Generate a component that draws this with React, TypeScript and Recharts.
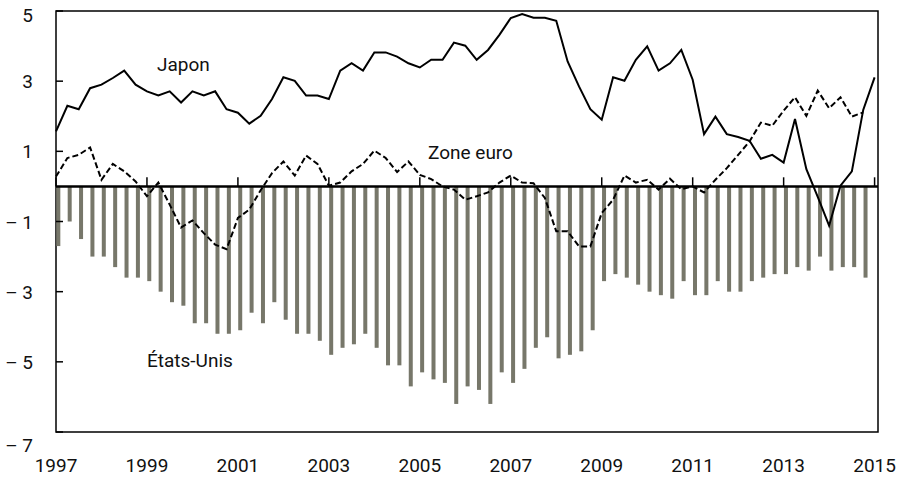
import React from 'react';
import { ComposedChart, Bar, Line, XAxis, YAxis, ReferenceLine, ReferenceArea } from 'recharts';

const FONT = 'Roboto, sans-serif';
const START_YEAR = 1997;

// quarter index of every second year, 1997..2015
const yearTicks = [0, 8, 16, 24, 32, 40, 48, 56, 64, 72];
const valueTicks = [5, 3, 1, -1, -3, -5, -7];

// États-Unis, 1997T1 .. 2014T4
const usBalance = [
  -1.7, -1.0, -1.5, -2.0, -2.0, -2.3, -2.6, -2.6,
  -2.7, -3.0, -3.3, -3.4, -3.9, -3.9, -4.2, -4.2,
  -4.1, -3.6, -3.9, -3.3, -3.8, -4.2, -4.2, -4.4,
  -4.8, -4.6, -4.5, -4.2, -4.6, -5.1, -5.1, -5.7,
  -5.3, -5.5, -5.6, -6.2, -5.7, -5.8, -6.2, -5.3,
  -5.6, -5.2, -4.6, -4.3, -4.9, -4.8, -4.7, -4.1,
  -2.7, -2.5, -2.6, -2.8, -3.0, -3.1, -3.2, -2.7,
  -3.1, -3.1, -2.7, -3.0, -3.0, -2.7, -2.6, -2.5,
  -2.5, -2.3, -2.4, -2.0, -2.4, -2.3, -2.3, -2.6,
];

// Japon, 1997T1 .. 2015T1
const japan = [
  1.57, 2.3, 2.2, 2.8, 2.9, 3.09, 3.3, 2.9,
  2.71, 2.59, 2.71, 2.39, 2.71, 2.59, 2.71, 2.2,
  2.1, 1.79, 2.01, 2.49, 3.11, 3.01, 2.59, 2.59,
  2.49, 3.3, 3.51, 3.3, 3.82, 3.82, 3.7, 3.51,
  3.39, 3.61, 3.61, 4.1, 4.01, 3.61, 3.89, 4.32,
  4.8, 4.91, 4.81, 4.81, 4.72, 3.56, 2.85, 2.2,
  1.9, 3.11, 3.01, 3.61, 3.99, 3.3, 3.51, 3.89,
  3.04, 1.49, 1.99, 1.49, 1.41, 1.3, 0.79, 0.9,
  0.68, 1.92, 0.49, -0.3, -1.12, 0.02, 0.43, 2.18,
  3.11,
];

// Zone euro, 1997T1 .. 2014T4
const euroArea = [
  0.28, 0.81, 0.9, 1.11, 0.19, 0.64, 0.43, 0.14,
  -0.28, 0.11, -0.52, -1.17, -0.97, -1.33, -1.66, -1.79,
  -0.9, -0.66, -0.11, 0.38, 0.71, 0.31, 0.88, 0.64,
  0.02, 0.11, 0.43, 0.64, 1.02, 0.81, 0.41, 0.71,
  0.33, 0.21, 0.0, -0.09, -0.38, -0.28, -0.17, 0.11,
  0.31, 0.11, 0.09, -0.33, -1.28, -1.28, -1.71, -1.71,
  -0.76, -0.38, 0.31, 0.11, 0.19, -0.09, 0.22, -0.08,
  0.0, -0.17, 0.19, 0.52, 0.9, 1.28, 1.82, 1.73,
  2.16, 2.54, 2.01, 2.73, 2.23, 2.54, 1.99, 2.11,
];

const data = japan.map((jp, q) => ({
  q,
  us: usBalance[q] ?? null,
  jp,
  euro: euroArea[q] ?? null,
}));

const fmtValue = (v: number) => (v < 0 ? `\u2013 ${-v}` : `${v}`);

const YTick = ({ x, y, payload }: any) => {
  const v = payload.value;
  // the end labels sit a bit below their grid value in the original
  const shift = v === 5 ? 4 : v === -7 ? 13 : 0;
  return (
    <g>
      <line x1={x} x2={x + 7} y1={y} y2={y} stroke="#000" strokeWidth={1.5} />
      <text x={x - 23} y={y + 7 + shift} textAnchor="end" fontSize={19} fontFamily={FONT} fill="#111">
        {fmtValue(v)}
      </text>
    </g>
  );
};

const XTick = ({ x, y, payload }: any) => (
  <text x={x} y={y + 40} textAnchor="middle" fontSize={19} fontFamily={FONT} fill="#111">
    {START_YEAR + payload.value / 4}
  </text>
);

// bars start at the quarter and extend to the right
const QuarterBar = (props: any) => {
  const { x, y, width, height, fill } = props;
  if (![x, y, width, height].every(Number.isFinite)) return null;
  const top = Math.min(y, y + height);
  return <rect x={x + width / 2} y={top} width={width} height={Math.abs(height)} fill={fill} />;
};

const labelStyle = { fontSize: 19, fontFamily: FONT, fill: '#111' };

export default function App() {
  return (
    <div style={{ position: 'absolute', left: 0, top: 0, width: 905, height: 478, background: '#fff' }}>
      <ComposedChart width={905} height={478} data={data} margin={{ top: 11, right: 27, bottom: 6, left: 6 }}>
        <XAxis
          dataKey="q"
          type="number"
          domain={[0, 72.3]}
          ticks={yearTicks}
          interval={0}
          axisLine={false}
          tickLine={false}
          tickSize={0}
          tickMargin={0}
          height={40}
          tick={<XTick />}
        />
        <YAxis
          type="number"
          domain={[-7, 5]}
          ticks={valueTicks}
          interval={0}
          axisLine={false}
          tickLine={false}
          tickSize={0}
          tickMargin={0}
          width={50}
          tick={<YTick />}
        />
        <ReferenceArea x1={0} x2={72.3} y1={-7} y2={5} fill="none" fillOpacity={0} stroke="#000" strokeWidth={1.5} />
        <Bar dataKey="us" fill="#77776a" barSize={4} shape={<QuarterBar />} isAnimationActive={false} />
        <ReferenceLine y={0} stroke="#000" strokeWidth={2.5} />
        {yearTicks.map((t) => (
          <ReferenceLine
            key={t}
            segment={[{ x: t, y: 0 }, { x: t, y: 0.26 }]}
            stroke="#000"
            strokeWidth={1.5}
          />
        ))}
        <Line
          dataKey="euro"
          type="linear"
          stroke="#000"
          strokeWidth={2}
          strokeDasharray="6 3"
          dot={false}
          connectNulls={false}
          isAnimationActive={false}
        />
        <Line dataKey="jp" type="linear" stroke="#000" strokeWidth={2} dot={false} isAnimationActive={false} />
      </ComposedChart>
      <svg width={905} height={478} style={{ position: 'absolute', left: 0, top: 0, pointerEvents: 'none' }}>
        <text x={157} y={71} {...labelStyle}>Japon</text>
        <text x={428} y={159} {...labelStyle}>Zone euro</text>
        <text x={147} y={367} {...labelStyle}>États-Unis</text>
      </svg>
    </div>
  );
}
